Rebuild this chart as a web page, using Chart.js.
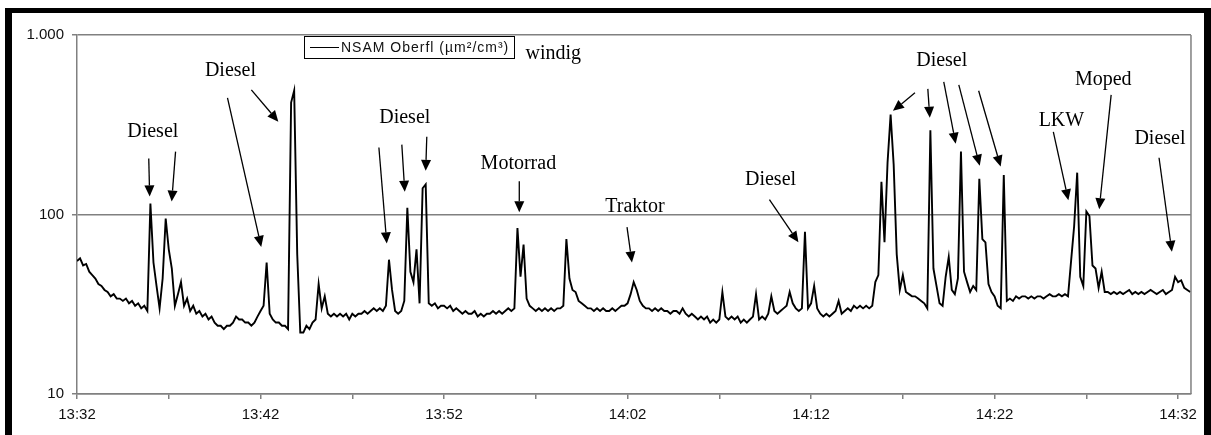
<!DOCTYPE html>
<html lang="de">
<head>
<meta charset="UTF-8" />
<title>NSAM Oberfläche 13:32 – 14:32</title>
<script src="https://cdn.jsdelivr.net/npm/chart.js"></script>
<style>
  html, body { margin: 0; padding: 0; background: #fff; overflow: hidden; }
  #rahmen {
    position: absolute; left: 5px; top: 8px; width: 1206px; height: 440px;
    box-sizing: border-box;
    border-left: 7px solid #000; border-top: 5px solid #000; border-right: 7px solid #000;
  }
  #box { position: absolute; left: 0; top: 0; width: 1192px; height: 422px; }
</style>
</head>
<body>
<div id="rahmen"><div id="box"><canvas id="chart"></canvas></div></div>

<script>
// Messbeginn 13:32, ein Wert alle 10 s
const START_MIN = 13 * 60 + 32;
const SCHRITT = 10 / 60;

// NSAM Oberfläche in µm²/cm³
const werte = [
  55,57,52,53,48,46,44,41,40,38,37,35,36,34,34,33,34,32,33,31,32,30,31,29,
  115,54,40,30,44,95,64,50,31,36,42,31,34,
  29,31,28,29,27,28,26,27,25,24,24,23,24,24,25,27,26,26,25,25,24,25,27,29,31,54,28,26,25,25,24,24,23,
  420,490,60,22,22,24,23,25,26,
  41,30,35,28,27,28,27,28,27,28,26,28,27,28,28,29,28,29,30,29,30,29,31,
  56,38,29,28,29,33,109,48,42,64,32,140,147,32,
  31,32,30,31,31,30,31,29,30,29,28,29,28,28,29,27,28,27,28,28,29,28,29,28,29,30,29,30,
  84,45,68,34,31,30,29,30,29,30,29,30,29,30,30,31,
  73,44,38,37,33,32,31,30,30,29,30,29,30,29,29,30,29,30,31,31,
  32,36,42,38,33,31,
  30,30,29,30,29,30,29,29,28,29,29,28,30,28,27,28,27,26,27,26,27,25,26,25,26,
  37,27,26,27,26,27,25,26,25,26,27,36,26,27,26,28,35,29,28,29,30,31,37,32,30,29,30,
  80,30,32,40,30,28,27,28,27,28,29,33,28,29,30,29,31,30,31,30,31,30,31,42,46,
  152,70,195,360,190,60,38,46,37,36,35,35,34,33,32,30,
  295,50,40,32,31,45,58,38,36,44,224,48,42,37,40,38,158,73,70,41,37,35,31,30,
  166,
  33,34,33,35,34,35,35,34,35,34,35,35,34,35,36,35,35,36,35,36,35,
  55,86,171,45,40,104,98,52,50,39,48,37,
  37,36,37,36,37,36,37,38,36,37,36,37,36,37,38,37,36,37,38,36,37,38,
  45,42,43,39,38,37
];

const yTicks = [10, 100, 1000];

// Beschriftungen: Text, Minute ab 13:32, Wert
const beschriftungen = [
  ['Diesel', 4.13, 289],
  ['Diesel', 8.36, 631],
  ['Diesel', 17.86, 346],
  ['Motorrad', 24.05, 192],
  ['Traktor', 30.4, 111],
  ['Diesel', 37.79, 156],
  ['Diesel', 47.12, 717],
  ['LKW', 53.64, 333],
  ['Moped', 55.92, 566],
  ['Diesel', 59.01, 264],
  ['windig', 25.95, 784]
];

// Pfeile: von (Minute, Wert) nach (Minute, Wert)
const pfeile = [
  [3.91, 205, 3.96, 126],
  [5.37, 224, 5.16, 118],
  [8.20, 447, 10.04, 66],
  [9.50, 495, 10.97, 329],
  [16.45, 236, 16.88, 69],
  [17.70, 245, 17.86, 134],
  [19.06, 271, 19.00, 175],
  [24.1, 153, 24.1, 103],
  [29.97, 85, 30.24, 54],
  [37.73, 121, 39.31, 70],
  [45.66, 476, 44.46, 378],
  [46.36, 501, 46.47, 346],
  [47.23, 548, 47.88, 248],
  [48.05, 527, 49.19, 187],
  [49.13, 489, 50.33, 185],
  [53.2, 289, 54.02, 120],
  [56.35, 464, 55.70, 107],
  [58.96, 207, 59.66, 62]
];

const legendeText = 'NSAM Oberfl (µm²/cm³)';

function uhrzeit(min) {
  const t = START_MIN + min;
  const h = Math.floor(t / 60), m = t % 60;
  return h + ':' + String(m).padStart(2, '0');
}

const grau = '#808080';

const anmerkungen = {
  id: 'anmerkungen',
  afterDraw(chart) {
    const { ctx, chartArea: ca } = chart;
    const sx = chart.scales.x, sy = chart.scales.y;
    ctx.save();

    // rechter Rand der Zeichenfläche
    ctx.strokeStyle = grau;
    ctx.lineWidth = 1.5;
    ctx.beginPath();
    ctx.moveTo(ca.right, ca.top);
    ctx.lineTo(ca.right, ca.bottom);
    ctx.stroke();

    // Pfeile
    ctx.strokeStyle = '#000';
    ctx.fillStyle = '#000';
    ctx.lineWidth = 1.3;
    pfeile.forEach(([t0, v0, t1, v1]) => {
      const x0 = sx.getPixelForValue(t0), y0 = sy.getPixelForValue(v0);
      const x1 = sx.getPixelForValue(t1), y1 = sy.getPixelForValue(v1);
      const w = Math.atan2(y1 - y0, x1 - x0);
      const L = 11, B = 5;
      const bx = x1 - L * Math.cos(w), by = y1 - L * Math.sin(w);
      ctx.beginPath();
      ctx.moveTo(x0, y0);
      ctx.lineTo(bx, by);
      ctx.stroke();
      ctx.beginPath();
      ctx.moveTo(x1, y1);
      ctx.lineTo(bx + B * Math.sin(w), by - B * Math.cos(w));
      ctx.lineTo(bx - B * Math.sin(w), by + B * Math.cos(w));
      ctx.closePath();
      ctx.fill();
    });

    // Texte
    ctx.font = '20px "Liberation Serif"';
    ctx.textAlign = 'center';
    ctx.textBaseline = 'middle';
    beschriftungen.forEach(([txt, t, v]) => {
      ctx.fillText(txt, sx.getPixelForValue(t), sy.getPixelForValue(v));
    });

    // Legende
    const lx = ca.left + 227, ly = ca.top + 1;
    ctx.lineWidth = 1;
    ctx.strokeStyle = '#000';
    ctx.fillStyle = '#fff';
    ctx.fillRect(lx, ly, 210, 22);
    ctx.strokeRect(lx + 0.5, ly + 0.5, 210, 22);
    ctx.beginPath();
    ctx.moveTo(lx + 6, ly + 11.5);
    ctx.lineTo(lx + 35, ly + 11.5);
    ctx.stroke();
    ctx.fillStyle = '#111';
    ctx.font = '14px "Liberation Sans"';
    ctx.letterSpacing = '1px';
    ctx.textAlign = 'left';
    ctx.fillText(legendeText, lx + 37, ly + 12);

    ctx.restore();
  }
};

new Chart(document.getElementById('chart'), {
  type: 'line',
  data: {
    datasets: [{
      label: legendeText,
      data: werte.map((v, i) => ({ x: i * SCHRITT, y: v })),
      borderColor: '#000',
      borderWidth: 1.9,
      pointRadius: 0,
      tension: 0,
      fill: false
    }]
  },
  options: {
    responsive: true,
    maintainAspectRatio: false,
    animation: false,
    layout: { padding: { top: 22, right: 9, left: 0, bottom: 0 } },
    plugins: { legend: { display: false }, tooltip: { enabled: false } },
    scales: {
      x: {
        type: 'linear',
        min: 0,
        max: 60.7,
        afterFit: s => { s.height = 41; },
        ticks: {
          stepSize: 5,
          includeBounds: false,
          autoSkip: false,
          maxRotation: 0,
          padding: 7,
          color: '#111',
          font: { family: 'Liberation Sans', size: 15 },
          callback: v => (v % 10 === 0 ? uhrzeit(v) : '')
        },
        grid: { drawOnChartArea: false, drawTicks: true, tickLength: 5, color: grau, lineWidth: 1.5 },
        border: { color: grau, width: 1.5 }
      },
      y: {
        type: 'logarithmic',
        min: 10,
        max: 1000,
        afterFit: s => { s.width = 65; },
        afterBuildTicks: s => { s.ticks = yTicks.map(v => ({ value: v })); },
        ticks: {
          padding: 8,
          color: '#111',
          font: { family: 'Liberation Sans', size: 15 },
          callback: v => v.toLocaleString('de-DE')
        },
        grid: { color: grau, lineWidth: 1.5, tickLength: 5 },
        border: { color: grau, width: 1.5 }
      }
    }
  },
  plugins: [anmerkungen]
});
</script>
</body>
</html>
